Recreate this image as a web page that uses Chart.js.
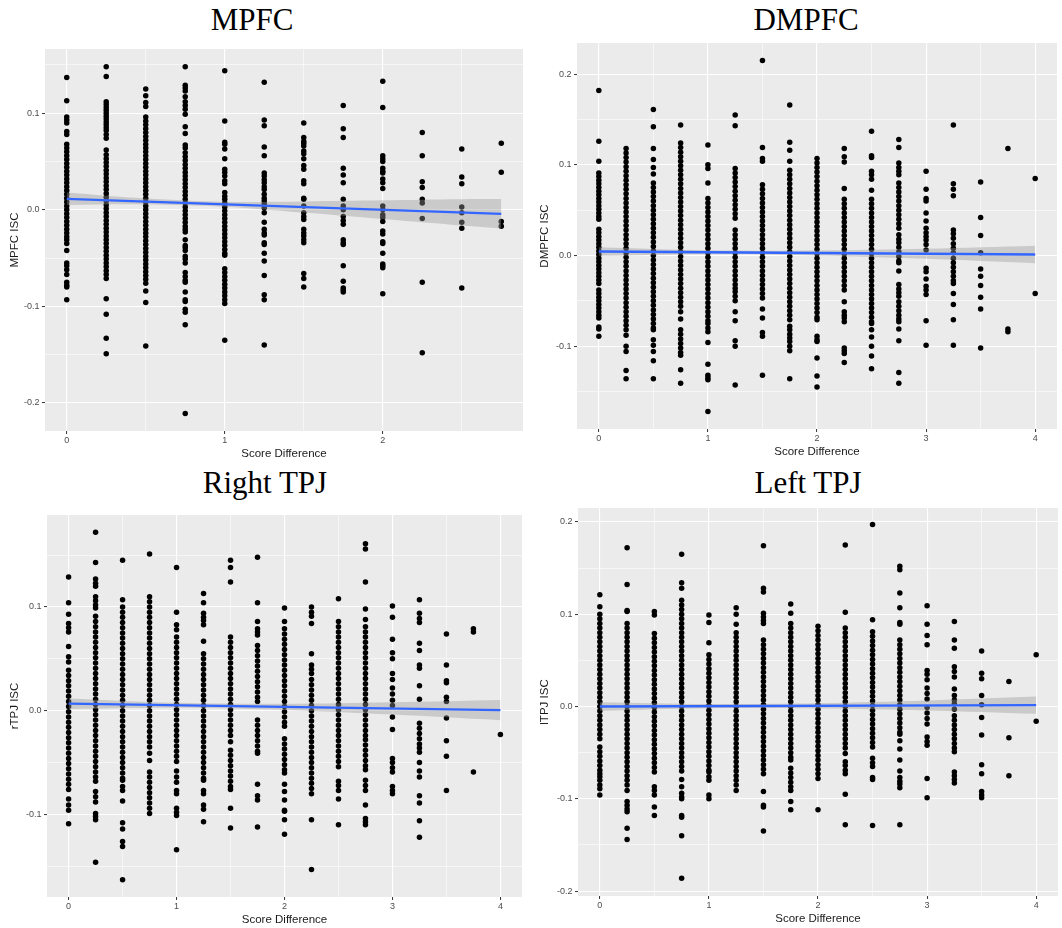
<!DOCTYPE html>
<html><head><meta charset="utf-8">
<script src="https://cdn.jsdelivr.net/npm/chart.js@4.4.1/dist/chart.umd.min.js"></script>
<style>
body{margin:0;background:#fff;width:1062px;height:928px;position:relative;overflow:hidden}
.t{position:absolute;font-family:'Liberation Serif','Times New Roman',serif;font-size:31px;line-height:31px;color:#000;white-space:nowrap;transform:translateX(-50%)}
canvas{position:absolute}
</style></head><body>
<div class="t" style="left:252px;top:4px">MPFC</div>
<div class="t" style="left:806px;top:4px">DMPFC</div>
<div class="t" style="left:265px;top:467px">Right TPJ</div>
<div class="t" style="left:808px;top:467px">Left TPJ</div>
<canvas id="c1"></canvas><canvas id="c2"></canvas><canvas id="c3"></canvas><canvas id="c4"></canvas>
<script>
// ---------- MPFC ----------
const mpfcX = [0,0.25,0.5,0.75,1,1.25,1.5,1.75,2,2.25,2.5,2.75];
const mpfcY = [
 [.137,.113,.096,.093,.090,.081,.078,.068,.064,.060,.056,.052,.048,.044,.040,.036,.032,.028,.024,.020,.016,.012,.008,.004,.000,-.004,-.008,-.012,-.016,-.020,-.024,-.028,-.031,-.035,-.042,-.055,-.058,-.062,-.067,-.075,-.078,-.080,-.093],
 [.148,.138,.112,.109,.106,.103,.100,.097,.094,.091,.088,.085,.082,.078,.074,.062,.057,.053,.049,.045,.041,.037,.033,.029,.025,.021,.017,.013,.009,.005,.001,-.003,-.007,-.011,-.015,-.019,-.023,-.027,-.031,-.035,-.039,-.043,-.047,-.051,-.055,-.059,-.063,-.067,-.071,-.092,-.108,-.133,-.149],
 [.125,.118,.111,.107,.096,.092,.088,.084,.080,.076,.072,.068,.064,.060,.056,.052,.048,.044,.040,.036,.032,.028,.024,.020,.016,.012,.008,.004,.000,-.004,-.008,-.012,-.016,-.020,-.024,-.028,-.032,-.036,-.040,-.044,-.048,-.052,-.056,-.060,-.064,-.068,-.072,-.076,-.084,-.096,-.141],
 [.148,.129,.126,.123,.117,.112,.108,.104,.099,.086,.079,.067,.064,.059,.055,.051,.047,.043,.039,.035,.031,.027,.023,.019,.015,.011,.007,.003,-.001,-.005,-.009,-.013,-.017,-.020,-.023,-.031,-.037,-.039,-.042,-.048,-.051,-.055,-.065,-.069,-.073,-.075,-.085,-.093,-.095,-.103,-.106,-.119,-.211],
 [.144,.092,.070,.068,.063,.053,.042,.039,.035,.030,.027,.018,.014,.011,.007,.003,-.001,-.005,-.009,-.013,-.017,-.021,-.025,-.029,-.033,-.037,-.041,-.045,-.047,-.061,-.065,-.069,-.073,-.077,-.081,-.085,-.089,-.093,-.097,-.135],
 [.132,.093,.087,.065,.056,.038,.035,.031,.028,.024,.021,.016,.012,.009,.006,.002,-.003,-.013,-.020,-.024,-.026,-.034,-.036,-.045,-.053,-.068,-.088,-.093,-.140],
 [.090,.075,.071,.069,.066,.061,.058,.053,.046,.042,.030,.027,.012,.011,.004,-.003,-.007,-.010,-.020,-.024,-.027,-.031,-.034,-.066,-.071,-.080],
 [.108,.084,.075,.043,.036,.028,.011,.004,.000,-.007,-.011,-.015,-.031,-.034,-.036,-.058,-.074,-.081,-.083,-.085],
 [.133,.106,.056,.053,.050,.043,.040,.038,.032,.028,.022,.004,.000,-.005,-.008,-.012,-.022,-.025,-.033,-.035,-.045,-.056,-.058,-.060,-.087],
 [.080,.056,.029,.023,.011,.007,-.009,-.075,-.148],
 [.063,.034,.027,.003,-.003,-.013,-.019,-.081],
 [.069,.039,-.012,-.017]
];
const mpfcFitX = [0, 2.75];
const mpfcFitY = [.0114, -.0041];
const mpfcBandX = [0,0.5,1,1.5,2,2.5,2.75];
const mpfcBandHi = [.0178,.0116,.0083,.0087,.0098,.0109,.0111];
const mpfcBandLo = [.0050,.0056,.0033,-.0029,-.0096,-.0163,-.0193];
const mpfcXTicks = [0,0.5,1,1.5,2,2.5];
const mpfcXLabels = ['0','','1','','2',''];
const mpfcYTicks = [-0.2,-0.15,-0.1,-0.05,0,0.05,0.1,0.15];
const mpfcYLabels = ['-0.2','','-0.1','','0.0','','0.1',''];

// ---------- DMPFC ----------
const dmpfcX = [0,0.25,0.5,0.75,1,1.25,1.5,1.75,2,2.25,2.5,2.75,3,3.25,3.5,3.75,4];
const dmpfcY = [
 [.182,.126,.104,.091,.087,.083,.079,.075,.071,.067,.063,.059,.055,.051,.047,.043,.040,.029,.025,.021,.017,.013,.009,.005,.001,-.003,-.007,-.011,-.015,-.019,-.023,-.027,-.031,-.038,-.042,-.046,-.050,-.054,-.058,-.062,-.066,-.069,-.079,-.081,-.089],
 [.118,.113,.108,.103,.098,.093,.088,.083,.078,.073,.068,.063,.058,.053,.048,.043,.038,.033,.028,.023,.018,.013,.008,.003,-.002,-.007,-.012,-.017,-.022,-.027,-.032,-.037,-.042,-.047,-.052,-.057,-.062,-.067,-.072,-.077,-.082,-.088,-.100,-.106,-.127,-.136],
 [.161,.142,.118,.106,.097,.090,.080,.075,.070,.065,.060,.055,.050,.045,.040,.035,.030,.025,.020,.015,.010,.005,.000,-.005,-.010,-.015,-.020,-.025,-.030,-.035,-.040,-.045,-.050,-.055,-.060,-.065,-.070,-.075,-.080,-.082,-.093,-.099,-.106,-.116,-.136],
 [.144,.124,.119,.114,.109,.104,.099,.094,.089,.084,.079,.074,.069,.064,.059,.054,.049,.044,.039,.034,.029,.024,.019,.014,.009,.004,-.001,-.006,-.011,-.016,-.021,-.026,-.031,-.036,-.041,-.046,-.051,-.056,-.062,-.070,-.082,-.087,-.092,-.097,-.102,-.107,-.110,-.126,-.141],
 [.122,.100,.096,.080,.063,.058,.053,.048,.043,.038,.033,.028,.023,.018,.013,.008,.003,-.002,-.007,-.012,-.017,-.022,-.027,-.032,-.037,-.042,-.047,-.052,-.057,-.062,-.067,-.072,-.075,-.080,-.084,-.096,-.120,-.132,-.135,-.137,-.172],
 [.155,.143,.096,.091,.086,.081,.076,.071,.066,.061,.056,.051,.046,.041,.028,.023,.018,.013,.008,.003,-.002,-.007,-.012,-.017,-.022,-.027,-.032,-.036,-.040,-.045,-.050,-.062,-.072,-.094,-.100,-.143],
 [.215,.119,.107,.104,.078,.073,.068,.063,.058,.053,.048,.043,.038,.033,.028,.023,.018,.013,.008,.003,-.002,-.007,-.012,-.017,-.022,-.027,-.032,-.037,-.042,-.047,-.059,-.069,-.085,-.089,-.132],
 [.166,.125,.116,.104,.094,.089,.084,.079,.074,.069,.064,.059,.054,.049,.044,.039,.034,.029,.024,.019,.014,.009,.004,-.001,-.006,-.011,-.016,-.021,-.026,-.031,-.036,-.041,-.046,-.051,-.056,-.061,-.066,-.071,-.078,-.082,-.087,-.091,-.095,-.100,-.105,-.136],
 [.107,.102,.097,.092,.087,.082,.077,.072,.067,.062,.057,.052,.047,.042,.037,.032,.027,.022,.017,.012,.007,.002,-.003,-.008,-.013,-.018,-.023,-.028,-.033,-.038,-.043,-.048,-.053,-.058,-.063,-.068,-.071,-.089,-.093,-.095,-.113,-.133,-.145],
 [.118,.109,.103,.074,.062,.057,.052,.047,.042,.037,.032,.027,.022,.017,.012,.007,.002,-.003,-.008,-.013,-.018,-.023,-.028,-.033,-.038,-.051,-.062,-.066,-.069,-.073,-.102,-.105,-.108,-.118],
 [.137,.110,.108,.093,.089,.084,.072,.062,.057,.052,.047,.042,.037,.032,.027,.022,.017,.012,.007,.002,-.003,-.008,-.013,-.018,-.023,-.028,-.033,-.038,-.043,-.048,-.053,-.058,-.063,-.068,-.073,-.075,-.082,-.090,-.100,-.111,-.125],
 [.128,.119,.102,.097,.093,.089,.080,.075,.070,.065,.060,.055,.050,.045,.040,.035,.030,.023,.018,.014,.009,.004,-.001,-.006,-.008,-.017,-.032,-.037,-.041,-.045,-.051,-.056,-.061,-.066,-.070,-.073,-.081,-.094,-.129,-.141],
 [.093,.073,.063,.060,.047,.038,.030,.025,.021,.017,.012,.006,-.014,-.018,-.026,-.034,-.038,-.043,-.072,-.099],
 [.144,.079,.073,.066,.028,.024,.019,.013,.008,.003,-.003,-.008,-.013,-.018,-.023,-.028,-.031,-.042,-.054,-.071,-.099],
 [.081,.042,.022,.003,-.015,-.023,-.033,-.046,-.059,-.102],
 [.118,-.081,-.084],
 [.085,-.042]
];
const dmpfcFitX = [0, 4];
const dmpfcFitY = [.0044, .0011];
const dmpfcBandX = [0,1,2,3,4];
const dmpfcBandHi = [.0092,.0058,.0055,.0074,.0107];
const dmpfcBandLo = [-.0004,.0014,.0001,-.0036,-.0085];
const dmpfcXTicks = [0,0.5,1,1.5,2,2.5,3,3.5,4];
const dmpfcXLabels = ['0','','1','','2','','3','','4'];
const dmpfcYTicks = [-0.15,-0.1,-0.05,0,0.05,0.1,0.15,0.2];
const dmpfcYLabels = ['','-0.1','','0.0','','0.1','','0.2'];

// ---------- rTPJ ----------
const rtpjX = [0,0.25,0.5,0.75,1,1.25,1.5,1.75,2,2.25,2.5,2.75,3,3.25,3.5,3.75,4];
const rtpjY = [
 [.129,.104,.093,.084,.080,.076,.062,.052,.047,.039,.034,.029,.024,.019,.014,.009,.004,-.001,-.006,-.011,-.016,-.021,-.026,-.031,-.036,-.041,-.046,-.051,-.056,-.061,-.066,-.071,-.076,-.085,-.091,-.096,-.109],
 [.172,.143,.127,.123,.120,.110,.106,.102,.099,.091,.086,.081,.076,.071,.066,.061,.056,.051,.046,.041,.036,.031,.026,.021,.016,.011,.006,.001,-.004,-.009,-.014,-.019,-.024,-.029,-.034,-.039,-.044,-.049,-.054,-.059,-.064,-.068,-.078,-.083,-.088,-.099,-.102,-.105,-.146],
 [.145,.107,.100,.095,.090,.085,.080,.075,.070,.065,.060,.055,.050,.045,.040,.035,.030,.025,.020,.015,.010,.005,.000,-.005,-.010,-.015,-.020,-.025,-.030,-.035,-.040,-.045,-.050,-.055,-.060,-.065,-.067,-.073,-.077,-.087,-.108,-.114,-.126,-.131,-.163],
 [.151,.110,.105,.100,.095,.090,.085,.080,.075,.070,.065,.060,.055,.050,.045,.040,.035,.030,.025,.020,.015,.010,.005,.000,-.005,-.010,-.015,-.020,-.025,-.030,-.035,-.041,-.048,-.059,-.064,-.069,-.074,-.079,-.084,-.089,-.094,-.099],
 [.138,.095,.083,.078,.071,.066,.061,.056,.051,.046,.041,.036,.031,.026,.021,.016,.011,.006,.001,-.004,-.009,-.014,-.019,-.024,-.029,-.034,-.039,-.044,-.049,-.058,-.064,-.069,-.077,-.080,-.094,-.098,-.101,-.134],
 [.113,.104,.094,.090,.087,.083,.067,.055,.050,.045,.040,.035,.030,.025,.020,.015,.010,.005,.000,-.005,-.010,-.015,-.020,-.025,-.030,-.035,-.040,-.045,-.050,-.055,-.060,-.065,-.067,-.077,-.080,-.091,-.095,-.107],
 [.145,.138,.124,.071,.066,.061,.056,.051,.046,.041,.036,.031,.026,.021,.016,.011,.006,.001,-.004,-.009,-.014,-.019,-.024,-.030,-.038,-.043,-.048,-.053,-.058,-.063,-.068,-.073,-.076,-.094,-.113],
 [.148,.104,.086,.079,.076,.073,.063,.058,.053,.048,.043,.038,.033,.028,.023,.018,.013,.009,-.009,-.014,-.019,-.024,-.029,-.034,-.039,-.041,-.071,-.082,-.086,-.112],
 [.099,.086,.079,.074,.069,.064,.059,.054,.049,.044,.039,.034,.029,.024,.019,.014,.009,.004,-.001,-.006,-.011,-.015,-.027,-.032,-.037,-.042,-.047,-.052,-.057,-.060,-.071,-.078,-.086,-.096,-.097,-.105,-.119],
 [.100,.095,.091,.084,.055,.044,.040,.036,.030,.025,.020,.015,.010,.005,.000,-.005,-.010,-.015,-.020,-.025,-.030,-.035,-.040,-.045,-.050,-.055,-.060,-.065,-.070,-.075,-.080,-.105,-.153],
 [.108,.086,.081,.076,.071,.066,.061,.056,.051,.046,.041,.036,.031,.026,.021,.016,.011,.006,.001,-.004,-.009,-.014,-.019,-.024,-.029,-.034,-.039,-.044,-.049,-.054,-.068,-.072,-.077,-.085,-.110],
 [.161,.156,.124,.098,.088,.081,.076,.071,.066,.061,.056,.051,.046,.041,.036,.031,.026,.021,.016,.011,.006,.001,-.004,-.009,-.014,-.019,-.024,-.028,-.033,-.038,-.043,-.048,-.053,-.057,-.067,-.072,-.077,-.091,-.104,-.107,-.110],
 [.101,.090,.069,.056,.050,.036,.030,.022,.016,.010,.005,-.006,-.018,-.046,-.050,-.055,-.059,-.073,-.077,-.080],
 [.107,.094,.089,.085,.065,.058,.044,.041,.024,.011,-.012,-.017,-.022,-.027,-.032,-.036,-.040,-.050,-.058,-.064,-.082,-.089,-.106,-.122],
 [.074,.044,.029,.027,.013,.009,-.007,-.029,-.044,-.077],
 [.079,.076,-.059],
 [-.023]
];
const rtpjFitX = [0, 4];
const rtpjFitY = [.0068, .0006];
const rtpjBandX = [0,1,2,3,4];
const rtpjBandHi = [.0119,.0077,.0067,.0081,.0103];
const rtpjBandLo = [.0017,.0029,.0007,-.0037,-.0091];
const rtpjXTicks = [0,0.5,1,1.5,2,2.5,3,3.5,4];
const rtpjXLabels = ['0','','1','','2','','3','','4'];
const rtpjYTicks = [-0.15,-0.1,-0.05,0,0.05,0.1,0.15];
const rtpjYLabels = ['','-0.1','','0.0','','0.1',''];

// ---------- lTPJ ----------
const ltpjX = [0,0.25,0.5,0.75,1,1.25,1.5,1.75,2,2.25,2.5,2.75,3,3.25,3.5,3.75,4];
const ltpjY = [
 [.121,.108,.100,.095,.090,.085,.080,.075,.070,.065,.060,.055,.050,.045,.040,.035,.030,.025,.020,.015,.010,.005,.000,-.005,-.010,-.015,-.020,-.025,-.030,-.035,-.044,-.049,-.054,-.059,-.064,-.069,-.073,-.076,-.080,-.085,-.089,-.096],
 [.172,.132,.104,.103,.090,.085,.080,.075,.070,.065,.060,.055,.050,.045,.040,.035,.030,.025,.020,.015,.010,.005,.000,-.005,-.010,-.015,-.020,-.025,-.030,-.035,-.040,-.045,-.050,-.055,-.060,-.065,-.070,-.075,-.080,-.085,-.091,-.103,-.107,-.111,-.114,-.132,-.144],
 [.103,.099,.079,.074,.069,.064,.059,.054,.049,.044,.039,.034,.029,.024,.019,.014,.009,.004,-.001,-.006,-.011,-.016,-.021,-.026,-.031,-.036,-.041,-.046,-.051,-.056,-.061,-.066,-.071,-.087,-.091,-.096,-.109,-.118],
 [.165,.134,.128,.115,.110,.105,.100,.095,.090,.085,.080,.075,.070,.065,.060,.055,.050,.045,.040,.035,.030,.025,.020,.015,.010,.005,.000,-.005,-.010,-.015,-.020,-.025,-.030,-.035,-.040,-.045,-.050,-.055,-.060,-.065,-.070,-.079,-.087,-.094,-.098,-.100,-.118,-.120,-.140,-.186],
 [.099,.091,.069,.056,.051,.046,.041,.036,.031,.026,.021,.016,.011,.006,.001,-.004,-.009,-.014,-.019,-.024,-.029,-.034,-.039,-.044,-.049,-.054,-.059,-.064,-.069,-.071,-.076,-.080,-.096,-.100],
 [.107,.100,.089,.080,.075,.070,.065,.060,.055,.050,.045,.040,.035,.030,.025,.020,.015,.010,.005,.000,-.005,-.010,-.015,-.020,-.025,-.030,-.035,-.040,-.045,-.050,-.055,-.060,-.065,-.070,-.075,-.080,-.085,-.091],
 [.174,.128,.124,.101,.097,.093,.090,.072,.067,.062,.057,.052,.047,.042,.037,.032,.027,.022,.017,.012,.007,.002,-.003,-.008,-.013,-.018,-.023,-.028,-.033,-.038,-.043,-.048,-.053,-.058,-.063,-.068,-.073,-.092,-.107,-.109,-.135],
 [.111,.101,.090,.085,.080,.075,.070,.065,.060,.055,.050,.045,.040,.035,.030,.025,.020,.015,.010,.005,.000,-.005,-.010,-.015,-.020,-.025,-.030,-.035,-.040,-.045,-.050,-.055,-.058,-.067,-.072,-.077,-.082,-.087,-.091,-.103,-.112],
 [.087,.082,.077,.072,.067,.062,.057,.052,.047,.042,.037,.032,.027,.022,.017,.012,.007,.002,-.003,-.008,-.013,-.018,-.023,-.028,-.033,-.038,-.043,-.048,-.053,-.058,-.063,-.068,-.073,-.078,-.112],
 [.175,.102,.085,.080,.075,.070,.065,.060,.055,.050,.045,.040,.035,.030,.025,.020,.015,.010,.005,.000,-.005,-.010,-.015,-.020,-.025,-.030,-.035,-.040,-.045,-.051,-.060,-.064,-.069,-.073,-.095,-.128],
 [.197,.094,.081,.076,.071,.066,.061,.056,.051,.046,.041,.036,.031,.026,.021,.016,.011,.006,.001,-.004,-.009,-.014,-.019,-.024,-.029,-.034,-.039,-.044,-.056,-.061,-.065,-.077,-.079,-.129],
 [.152,.148,.123,.107,.091,.089,.072,.067,.062,.057,.052,.047,.042,.037,.032,.027,.022,.017,.012,.007,.002,-.003,-.008,-.013,-.018,-.023,-.028,-.030,-.037,-.046,-.058,-.070,-.077,-.081,-.084,-.088,-.128],
 [.109,.089,.077,.067,.039,.035,.029,.020,.014,.008,-.001,-.007,-.013,-.019,-.033,-.038,-.042,-.078,-.099],
 [.092,.072,.063,.043,.038,.032,.019,.012,.007,.003,-.003,-.010,-.015,-.020,-.025,-.030,-.035,-.040,-.045,-.049,-.071,-.075,-.079,-.083],
 [.060,.036,.030,.012,.002,-.012,-.031,-.063,-.073,-.092,-.096,-.099],
 [.027,-.034,-.075],
 [.056,-.016]
];
const ltpjFitX = [0, 4];
const ltpjFitY = [.0000, .0014];
const ltpjBandX = [0,1,2,3,4];
const ltpjBandHi = [.0047,.0028,.0036,.0065,.0107];
const ltpjBandLo = [-.0047,-.0020,-.0022,-.0043,-.0079];
const ltpjXTicks = [0,0.5,1,1.5,2,2.5,3,3.5,4];
const ltpjXLabels = ['0','','1','','2','','3','','4'];
const ltpjYTicks = [-0.2,-0.15,-0.1,-0.05,0,0.05,0.1,0.15,0.2];
const ltpjYLabels = ['-0.2','','-0.1','','0.0','','0.1','','0.2'];

// ---------- rendering ----------
const SANS = "'Liberation Sans', Arial, sans-serif";
const panelBg = {
  id: 'panelBg',
  beforeDraw(chart) {
    const {ctx, chartArea: a} = chart;
    ctx.save(); ctx.fillStyle = '#EBEBEB';
    ctx.fillRect(a.left, a.top, a.right - a.left, a.bottom - a.top);
    ctx.restore();
  }
};
function pts(xs, cols) {
  const out = [];
  xs.forEach((x, i) => cols[i].forEach(v => out.push({x, y: v})));
  return out;
}
function pairs(xs, ys) { return xs.map((x, i) => ({x, y: ys[i]})); }
function labelOf(ticks, labels, v) {
  let best = 0, d = Infinity;
  ticks.forEach((t, i) => { const dd = Math.abs(t - v); if (dd < d) { d = dd; best = i; } });
  return labels[best];
}
function axis(ticks, labels, min, max, title, isX, fitSize, titlePad) {
  return {
    type: 'linear', min, max,
    afterBuildTicks: s => { s.ticks = ticks.map(v => ({value: v})); },
    afterFit: s => { if (isX) s.height = fitSize; else s.width = fitSize; },
    ticks: {
      autoSkip: false, maxRotation: 0, minRotation: 0,
      padding: isX ? 1.5 : 2.5,
      color: '#4D4D4D', font: {family: SANS, size: 9},
      callback: v => labelOf(ticks, labels, v)
    },
    grid: {
      color: '#FFFFFF',
      lineWidth: c => (c.tick && labelOf(ticks, labels, c.tick.value) !== '') ? 1.1 : 0.55,
      tickColor: c => (c.tick && labelOf(ticks, labels, c.tick.value) !== '') ? '#333333' : 'rgba(0,0,0,0)',
      tickLength: 3, tickWidth: 1, drawTicks: true
    },
    border: {display: false},
    title: {display: true, text: title, color: '#1a1a1a', font: {family: SANS, size: 11.5}, padding: titlePad}
  };
}
function makePanel(id, box, xs, cols, fitX, fitY, bX, bHi, bLo, xT, xL, xMin, xMax, yT, yL, yMin, yMax, yTitle) {
  const PADTOP = 15;
  const cv = document.getElementById(id);
  const left = box.canvasLeft, top = box.T - PADTOP;
  const W = box.canvasW, H = box.B + 31 - top;
  cv.width = W; cv.height = H;
  cv.style.left = left + 'px'; cv.style.top = top + 'px';
  cv.style.width = W + 'px'; cv.style.height = H + 'px';
  new Chart(cv, {
    type: 'scatter',
    data: {datasets: [
      {type: 'line', data: pairs(bX, bHi), borderColor: 'rgba(0,0,0,0)', borderWidth: 0, pointRadius: 0,
       fill: '+1', backgroundColor: 'rgba(153,153,153,0.4)', tension: 0.35, order: 2},
      {type: 'line', data: pairs(bX, bLo), borderColor: 'rgba(0,0,0,0)', borderWidth: 0, pointRadius: 0,
       fill: false, tension: 0.35, order: 2},
      {type: 'line', data: pairs(fitX, fitY), borderColor: '#3366FF', borderWidth: 2.3, pointRadius: 0,
       fill: false, order: 1},
      {type: 'scatter', data: pts(xs, cols), pointRadius: 2.75, pointBackgroundColor: '#000',
       pointBorderWidth: 0, pointBorderColor: '#000', order: 3}
    ]},
    options: {
      responsive: false, animation: false, events: [], devicePixelRatio: 1,
      layout: {padding: {top: PADTOP, left: 0, right: box.padR, bottom: 0}},
      plugins: {legend: {display: false}, tooltip: {enabled: false}},
      scales: {
        x: axis(xT, xL, xMin, xMax, 'Score Difference', true, 31, {top: 0, bottom: 1.6}),
        y: axis(yT, yL, yMin, yMax, yTitle, false, box.L - box.canvasLeft, {top: 8.1, bottom: 0})
      }
    },
    plugins: [panelBg]
  });
}
makePanel('c1', {canvasLeft: 0, canvasW: 530, L: 45, T: 49, B: 431, padR: 7},
  mpfcX, mpfcY, mpfcFitX, mpfcFitY, mpfcBandX, mpfcBandHi, mpfcBandLo,
  mpfcXTicks, mpfcXLabels, -0.1375, 2.8875, mpfcYTicks, mpfcYLabels, -0.229, 0.1665, 'MPFC ISC');
makePanel('c2', {canvasLeft: 530, canvasW: 532, L: 577, T: 43, B: 429, padR: 5},
  dmpfcX, dmpfcY, dmpfcFitX, dmpfcFitY, dmpfcBandX, dmpfcBandHi, dmpfcBandLo,
  dmpfcXTicks, dmpfcXLabels, -0.2, 4.2, dmpfcYTicks, dmpfcYLabels, -0.1914, 0.2344, 'DMPFC ISC');
makePanel('c3', {canvasLeft: 0, canvasW: 530, L: 47, T: 515, B: 897, padR: 8},
  rtpjX, rtpjY, rtpjFitX, rtpjFitY, rtpjBandX, rtpjBandHi, rtpjBandLo,
  rtpjXTicks, rtpjXLabels, -0.2, 4.2, rtpjYTicks, rtpjYLabels, -0.1796, 0.1887, 'rTPJ ISC');
makePanel('c4', {canvasLeft: 530, canvasW: 532, L: 578, T: 508, B: 896, padR: 0},
  ltpjX, ltpjY, ltpjFitX, ltpjFitY, ltpjBandX, ltpjBandHi, ltpjBandLo,
  ltpjXTicks, ltpjXLabels, -0.2, 4.2, ltpjYTicks, ltpjYLabels, -0.2053, 0.2150, 'lTPJ ISC');
</script>
</body></html>
